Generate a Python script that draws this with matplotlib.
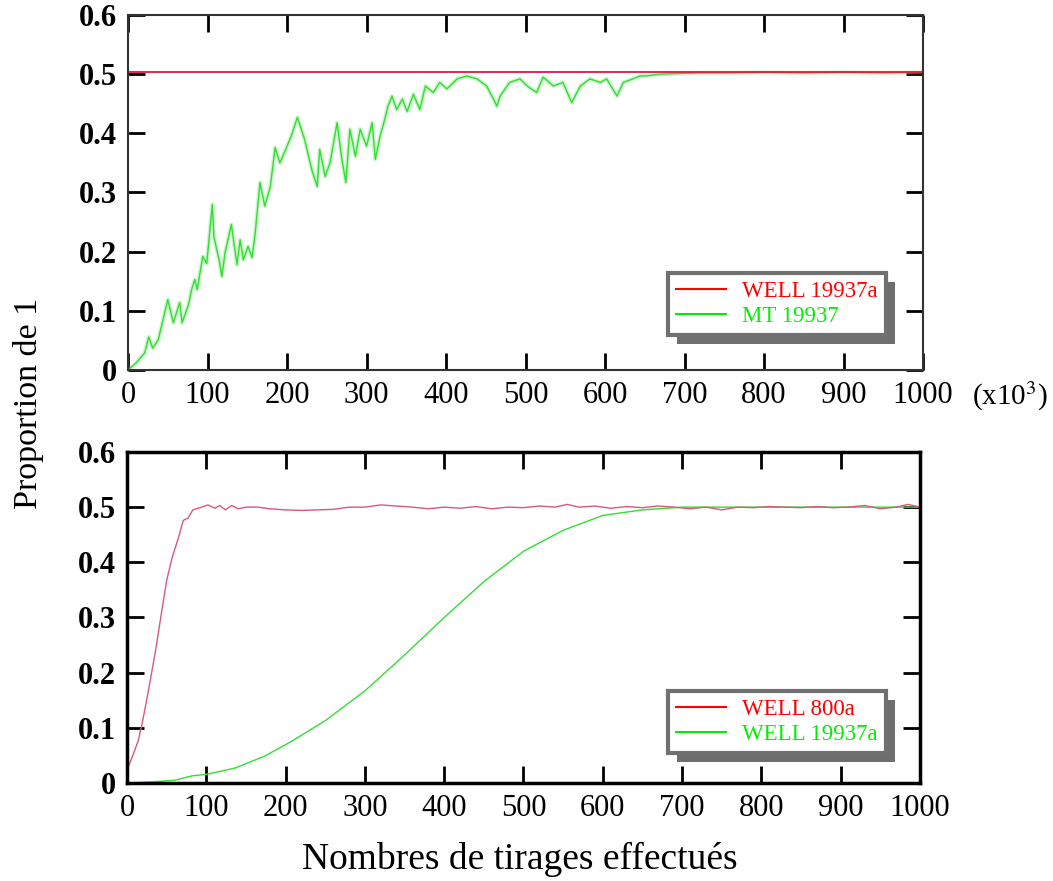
import matplotlib
matplotlib.use('Agg')
import matplotlib.pyplot as plt
from matplotlib.lines import Line2D
from matplotlib.patches import Rectangle

plt.rcParams['font.family'] = ['Liberation Serif', 'DejaVu Serif']
plt.rcParams['mathtext.fontset'] = 'stix'

# ---- data (x in thousands of draws) ----
x_ticks = [0, 100, 200, 300, 400, 500, 600, 700, 800, 900, 1000]
y_ticks = [0, 0.1, 0.2, 0.3, 0.4, 0.5, 0.6]
y_tick_labels = ['0', '0.1', '0.2', '0.3', '0.4', '0.5', '0.6']

# top panel: WELL 19937a stays flat, MT 19937 climbs slowly
top_well_x = [0, 1000]
top_well_y = [0.503, 0.503]

top_mt_x = [0, 10, 21, 26, 31, 38, 44, 50, 57, 65, 68, 76, 80, 84, 87, 94, 99,
            106, 108, 115, 118, 122, 130, 137, 141, 145, 151, 156, 160, 166, 172,
            179, 185, 191, 200, 206, 213, 222, 231, 238, 241, 248, 254, 260, 263,
            269, 274, 279, 286, 292, 300, 307, 311, 317, 323, 327, 332, 338, 345,
            351, 359, 367, 374, 384, 392, 401, 414, 426, 439, 451, 458, 464, 468,
            480, 493, 502, 514, 522, 535, 547, 558, 569, 581, 594, 602, 615, 623,
            635, 644, 652, 669, 690, 720, 760, 800, 850, 900, 950, 1000]
top_mt_y = [0.0, 0.012, 0.029, 0.056, 0.037, 0.051, 0.085, 0.119, 0.08, 0.114, 0.08,
            0.11, 0.136, 0.153, 0.136, 0.192, 0.18, 0.28, 0.225, 0.183, 0.158, 0.198,
            0.246, 0.178, 0.22, 0.186, 0.209, 0.19, 0.232, 0.317, 0.277, 0.31, 0.376,
            0.35, 0.378, 0.398, 0.427, 0.39, 0.339, 0.31, 0.373, 0.327, 0.35, 0.395,
            0.418, 0.356, 0.317, 0.407, 0.361, 0.407, 0.378, 0.418, 0.356, 0.395,
            0.424, 0.446, 0.463, 0.44, 0.458, 0.437, 0.466, 0.44, 0.48, 0.469, 0.486,
            0.475, 0.492, 0.497, 0.492, 0.48, 0.462, 0.446, 0.463, 0.486, 0.492, 0.48,
            0.469, 0.495, 0.48, 0.486, 0.452, 0.48, 0.492, 0.486, 0.492, 0.463, 0.486,
            0.492, 0.497, 0.497, 0.5, 0.501, 0.502, 0.502, 0.503, 0.502, 0.503, 0.502,
            0.503]

# bottom panel: WELL 800a vs WELL 19937a
bot_800_x = [0, 1, 6, 14, 19, 27, 36, 44, 50, 57, 65, 71, 77, 83, 94, 102, 111, 117,
             124, 132, 140, 150, 165, 180, 200, 220, 240, 260, 280, 300, 320, 340,
             360, 380, 400, 420, 440, 460, 480, 500, 520, 540, 555, 570, 590, 610,
             630, 650, 670, 690, 710, 730, 750, 770, 790, 810, 830, 850, 870, 890,
             910, 930, 950, 970, 985, 1000]
bot_800_y = [0.0, 0.027, 0.045, 0.076, 0.107, 0.167, 0.24, 0.313, 0.367, 0.409, 0.445,
             0.476, 0.48, 0.495, 0.5, 0.504, 0.498, 0.503, 0.495, 0.503, 0.497, 0.5,
             0.5, 0.497, 0.495, 0.494, 0.495, 0.496, 0.5, 0.5, 0.504, 0.502, 0.5,
             0.497, 0.5, 0.498, 0.501, 0.497, 0.5, 0.499, 0.502, 0.5, 0.505, 0.5,
             0.502, 0.498, 0.501, 0.499, 0.502, 0.5, 0.497, 0.5, 0.495, 0.5, 0.499,
             0.501, 0.5, 0.499, 0.501, 0.499, 0.5, 0.503, 0.497, 0.5, 0.505, 0.5]

bot_19937_x = [0, 30, 60, 82, 101, 136, 174, 208, 250, 300, 350, 400, 450, 500, 550,
               600, 650, 700, 750, 800, 900, 1000]
bot_19937_y = [0.0, 0.002, 0.005, 0.013, 0.016, 0.027, 0.049, 0.076, 0.113, 0.167,
               0.232, 0.30, 0.365, 0.42, 0.458, 0.485, 0.495, 0.5, 0.5, 0.5, 0.5, 0.5]

RED = '#ff0000'
GREEN = '#00ee00'
LINE_RED = '#dd1a40'
LINE_RED2 = '#d85a7a'
LINE_GREEN = '#33dd33'

fig = plt.figure(figsize=(10.53, 8.81), dpi=100)
ax1 = fig.add_axes([0.1216, 0.58, 0.755, 0.403])
ax2 = fig.add_axes([0.1206, 0.1112, 0.7531, 0.3758])


def style_axes(ax, frame_color, frame_lw):
    ax.set_xlim(0, 1000)
    ax.set_ylim(0, 0.6)
    ax.set_xticks(x_ticks)
    ax.set_xticklabels([str(v) for v in x_ticks], fontsize=22)
    ax.set_yticks(y_ticks)
    ax.set_yticklabels(y_tick_labels, fontsize=22, fontweight='bold')
    ax.tick_params(direction='in', length=12, width=2, top=True, right=True,
                   color='black')
    ax.tick_params(axis='x', pad=8)
    ax.tick_params(axis='y', pad=8)
    for s in ax.spines.values():
        s.set_color(frame_color)
        s.set_linewidth(frame_lw)


def shadow_legend(ax, labels, anchor):
    handles = [Line2D([], [], color=RED, lw=1.5), Line2D([], [], color=GREEN, lw=1.5)]
    leg = ax.legend(handles, labels, loc='lower left', bbox_to_anchor=anchor,
                    borderaxespad=0, fancybox=False, frameon=True, fontsize=16.5,
                    handlelength=2.2, handletextpad=0.7, labelspacing=0.15,
                    borderpad=0.35, labelcolor=[RED, GREEN])
    frame = leg.get_frame()
    frame.set_edgecolor('#707070')
    frame.set_linewidth(3)
    frame.set_facecolor('white')
    frame.set_alpha(1)
    leg.set_zorder(6)
    return leg


style_axes(ax1, '#333333', 1.5)
ax1.plot(top_mt_x, top_mt_y, color=LINE_GREEN, lw=3.0, alpha=0.25)
ax1.plot(top_mt_x, top_mt_y, color=LINE_GREEN, lw=1.0)
ax1.plot(top_well_x, top_well_y, color=LINE_RED, lw=1.3)
leg1 = shadow_legend(ax1, ['WELL 19937a', 'MT 19937'], (0.679, 0.099))
ax1.text(1.062, -0.075, '(x10$^{3}$)', transform=ax1.transAxes, fontsize=21,
         ha='left', va='center')

style_axes(ax2, 'black', 2.5)
ax2.plot(bot_19937_x, bot_19937_y, color=LINE_GREEN, lw=1.0)
ax2.plot(bot_800_x, bot_800_y, color=LINE_RED2, lw=1.0)
leg2 = shadow_legend(ax2, ['WELL 800a', 'WELL 19937a'], (0.682, 0.091))

fig.text(0.027, 0.542, 'Proportion de 1', rotation=90, fontsize=24.5,
         ha='center', va='center')
fig.text(0.494, 0.024, 'Nombres de tirages effectués', fontsize=27,
         ha='center', va='center')

# dark offset box behind each legend, like the original's drop shadow
fig.canvas.draw()
for ax, leg in ((ax1, leg1), (ax2, leg2)):
    bb = leg.get_window_extent().transformed(fig.transFigure.inverted())
    dx, dy = 9 / 1053, 9 / 881
    ax.add_patch(Rectangle((bb.x0 + dx, bb.y0 - dy), bb.width, bb.height,
                           transform=fig.transFigure, facecolor='#6e6e6e',
                           edgecolor='none', zorder=5, clip_on=False))

fig.savefig('out.png', dpi=100, facecolor='white')
